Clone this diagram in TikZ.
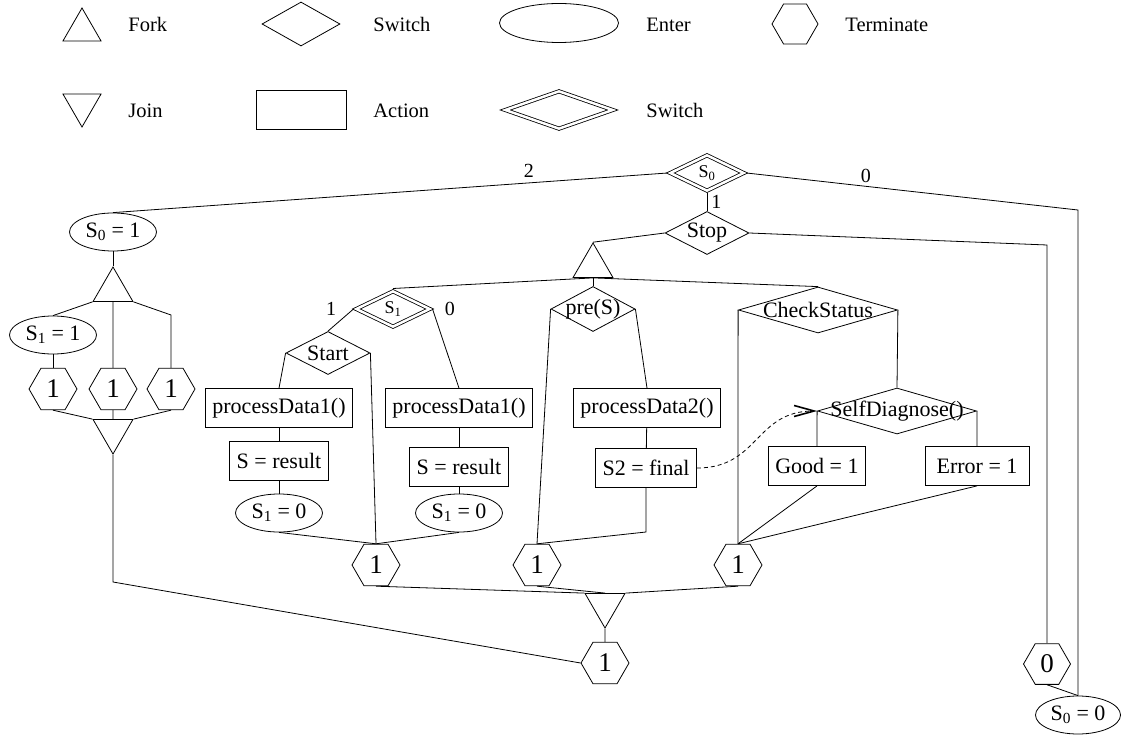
\documentclass[tikz,border=0pt]{standalone}
\usepackage{fontspec}
\setmainfont{Liberation Serif}
\usepackage{tikz}
\usetikzlibrary{shapes.geometric,arrows.meta}

\newcommand{\swtext}[1]{\makebox[0pt]{#1}}

\begin{document}
\begin{tikzpicture}[x=1pt,y=-1pt,line width=0.8pt,
    every node/.style={font=\fontsize{22}{24}\selectfont},
    legendtext/.style={anchor=base west,inner sep=0pt,font=\fontsize{20.5}{23}\selectfont},
    edgelabel/.style={font=\fontsize{20}{22}\selectfont,inner sep=2pt},
    actionshape/.style={draw,rectangle,minimum height=39pt,inner xsep=7pt},
    entershape/.style={draw,ellipse,minimum width=87pt,minimum height=38pt,inner sep=0pt},
    termshape/.style={draw,regular polygon,regular polygon sides=6,minimum size=48pt,inner sep=0pt,font=\fontsize{27}{29}\selectfont},
    forkshape/.style={draw,regular polygon,regular polygon sides=3,minimum size=46pt,inner sep=0pt},
    joinshape/.style={forkshape,shape border rotate=180},
    switchshape/.style={draw,diamond,minimum width=84pt,minimum height=43pt,inner sep=0pt},
    dswitchshape/.style={switchshape,double,double distance=2.5pt,minimum width=75pt,minimum height=37pt,outer sep=2pt,font=\fontsize{18}{20}\selectfont}]

    \useasboundingbox (0,0) rectangle (1121,735);

    % legend
    \node[forkshape,minimum size=44pt] (lgfork) at (82,30) {};
    \node[legendtext] (lgforktext) at (128,32) {Fork};
    \node[switchshape,minimum width=78pt,minimum height=44pt] (lgswitch) at (301,24) {};
    \node[legendtext] (lgswitchtext) at (373,32) {Switch};
    \node[entershape,minimum width=119pt,minimum height=39pt] (lgenter) at (559,23) {};
    \node[legendtext] (lgentertext) at (646,32) {Enter};
    \node[termshape,minimum size=46pt] (lgterm) at (795,24) {};
    \node[legendtext] (lgtermtext) at (845,32) {Terminate};
    \node[joinshape,minimum size=44pt] (lgjoin) at (82,105) {};
    \node[legendtext] (lgjointext) at (128,117.5) {Join};
    \node[actionshape,minimum width=90pt] (lgaction) at (301,110) {};
    \node[legendtext] (lgactiontext) at (373,117.5) {Action};
    \node[dswitchshape,minimum width=109pt,minimum height=39pt] (lgdswitch) at (559,110) {};
    \node[legendtext] (lgdswitchtext) at (646,117.5) {Switch};

    % top switch and its branches
    \node[dswitchshape] (szero) at (707,173) {\swtext{S\textsubscript{0}}};
    \node[switchshape] (stop) at (707,233) {\swtext{Stop}};
    \node[entershape] (szeroone) at (113,232) {S\textsubscript{0} = 1};
    \node[entershape,minimum width=85pt] (szerozero) at (1078,715) {S\textsubscript{0} = 0};
    \node[termshape,minimum size=47pt] (termzero) at (1047,664) {0};
    \coordinate (bendzero) at (1078,210);
    \coordinate (bendstop) at (1047,245);
    \draw (szero.west) -- node[edgelabel,pos=.25,above=3pt] {2} (szeroone.north);
    \draw (szero.east) -- node[edgelabel,pos=.36,above=1pt] {0} (bendzero) -- (szerozero.north);
    \draw (szero.south) -- node[edgelabel,right=2pt] {1} (stop.north);
    \draw (stop.east) -- (bendstop) -- (termzero.north);
    \draw (termzero.south) -- (szerozero.north);

    % left fork and join
    \node[forkshape] (forkleft) at (113,290) {};
    \node[entershape] (soneone) at (53,335) {S\textsubscript{1} = 1};
    \node[termshape] (termleft) at (53,389) {1};
    \node[termshape] (termmid) at (113,389) {1};
    \node[termshape] (termright) at (171,389) {1};
    \node[joinshape] (joinleft) at (113,431) {};
    \coordinate (bendfork) at (171,315);
    \coordinate (bendleft) at (113,582);
    \draw (szeroone) -- (forkleft.north);
    \draw (forkleft.210) -- (soneone.north);
    \draw (forkleft.south) -- (termmid.north);
    \draw (forkleft.330) -- (bendfork) -- (termright.north);
    \draw (soneone) -- (termleft);
    \draw (termleft.south) -- (joinleft.150);
    \draw (termmid.south) -- (joinleft.north);
    \draw (termright.south) -- (joinleft.30);

    % main fork
    \node[forkshape] (forkmain) at (593,266) {};
    \node[dswitchshape] (sone) at (393,309) {\swtext{S\textsubscript{1}}};
    \node[switchshape,minimum height=45pt] (pre) at (593,309) {\swtext{pre(S)}};
    \node[switchshape,minimum width=159pt,minimum height=46pt] (check) at (818,310) {\swtext{CheckStatus}};
    \draw (stop.west) -- (forkmain.north);
    \draw (forkmain.south) -- (sone.north);
    \draw (forkmain.south) -- (pre.north);
    \draw (forkmain.south) -- (check.north);

    % S1 branches
    \node[switchshape] (start) at (328,353) {\swtext{Start}};
    \node[actionshape] (pdonea) at (279,408) {processData1()};
    \node[actionshape] (resulta) at (279,461) {S = result};
    \node[entershape] (sonezeroa) at (279,513) {S\textsubscript{1} = 0};
    \node[actionshape] (pdoneb) at (459,408) {processData1()};
    \node[actionshape] (resultb) at (459,467) {S = result};
    \node[entershape] (sonezerob) at (459,513) {S\textsubscript{1} = 0};
    \node[termshape] (terma) at (376,565) {1};
    \draw (sone.west) node[edgelabel,left=15pt] {1} -- (start.north);
    \draw (sone.east) node[edgelabel,right=10pt] {0} -- (pdoneb.north);
    \draw (start.west) -- (pdonea.north);
    \draw (start.east) -- (terma.north);
    \draw (pdonea) -- (resulta);
    \draw (resulta) -- (sonezeroa);
    \draw (pdoneb) -- (resultb);
    \draw (resultb) -- (sonezerob);
    \draw (sonezeroa.south) -- (terma.north);
    \draw (sonezerob.south) -- (terma.north);

    % pre(S) branches
    \node[actionshape] (pdtwo) at (647,408) {processData2()};
    \node[actionshape] (final) at (646,468) {S2 = final};
    \node[termshape] (termb) at (537,565) {1};
    \coordinate (bendfinal) at (646,532);
    \draw (pre.west) -- (termb.north);
    \draw (pre.east) -- (pdtwo.north);
    \draw (pdtwo) -- (final);
    \draw (final.south) -- (bendfinal) -- (termb.north);

    % CheckStatus branches
    \node[switchshape,minimum width=159pt,minimum height=46pt] (selfd) at (897,411) {\swtext{SelfDiagnose()}};
    \node[actionshape] (good) at (817,466) {Good = 1};
    \node[actionshape,minimum width=104pt] (error) at (977,466) {Error = 1};
    \node[termshape] (termc) at (738,565) {1};
    \draw (check.west) -- (termc.north);
    \draw (check.east) -- (selfd.north);
    \draw (selfd.west) -- (good.north);
    \draw (selfd.east) -- (error.north);
    \draw (good.south) -- (termc.north);
    \draw (error.south) -- (termc.north);
    \draw[dash pattern=on 4pt off 3pt,-{Straight Barb[length=20pt,width=11pt,line width=1.6pt]}] (final.east) to[out=0,in=180,looseness=1.2] (selfd.west);

    % final join
    \node[joinshape] (joinmain) at (605,605) {};
    \node[termshape] (termd) at (605,663) {1};
    \draw (terma.south) -- (joinmain.150);
    \draw (termb.south) -- (joinmain.north);
    \draw (termc.south) -- (joinmain.30);
    \draw (joinmain.south) -- (termd.north);
    \draw (joinleft.south) -- (bendleft) -- (termd.west);

\end{tikzpicture}
\end{document}
